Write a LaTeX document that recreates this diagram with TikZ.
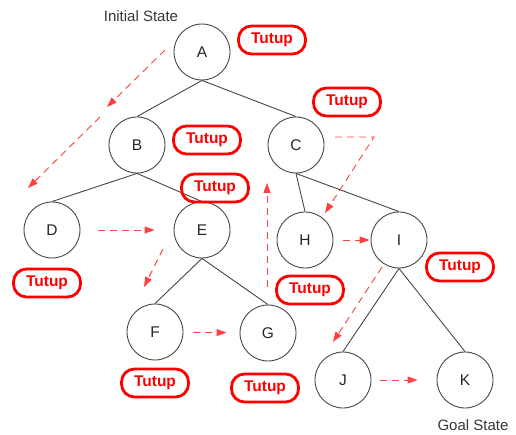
\documentclass[tikz,border=0pt]{standalone}
\usepackage{fontspec}
\setmainfont{Liberation Sans}
\usetikzlibrary{arrows.meta}
\definecolor{treeline}{RGB}{70,70,70}
\definecolor{closedred}{RGB}{255,0,0}
\definecolor{labelgrey}{RGB}{55,55,55}

\begin{document}
\begin{tikzpicture}[
  x=1pt, y=-1pt,
  font=\fontsize{15.5}{17}\selectfont,
  state/.style={circle, draw=treeline, line width=0.9pt, minimum size=56pt, inner sep=0pt, text=black!85},
  edge/.style={draw=treeline, line width=0.9pt},
  closed/.style={draw=closedred, line width=2.8pt, rounded corners=13pt, minimum width=67pt, minimum height=28pt, inner sep=0pt, text=closedred, font=\fontsize{15.5}{17}\selectfont\bfseries},
  search/.style={-{Triangle[length=10pt,width=7pt]}, draw=closedred!75, line width=0.9pt, dash pattern=on 7pt off 5pt},
  caption/.style={text=labelgrey, font=\fontsize{15}{17}\selectfont}
]
\useasboundingbox (0,0) rectangle (516,435);

% search tree
\node[state] (A) at (202,52) {A};
\node[state] (B) at (137,145) {B};
\node[state] (C) at (296,145) {C};
\node[state] (D) at (52,230) {D};
\node[state] (E) at (202,230) {E};
\node[state] (H) at (305,240) {H};
\node[state] (I) at (399,240) {I};
\node[state] (F) at (155,332) {F};
\node[state] (G) at (268,333) {G};
\node[state] (J) at (343,380) {J};
\node[state] (K) at (465,380) {K};

\draw[edge] (A.south) -- (B.north);
\draw[edge] (A.south) -- (C.north);
\draw[edge] (B.south) -- (D.north);
\draw[edge] (B.south) -- (E.north);
\draw[edge] (C.south) -- (H.north);
\draw[edge] (C.south) -- (I.north);
\draw[edge] (E.south) -- (F.north);
\draw[edge] (E.south) -- (G.north);
\draw[edge] (I.south) -- (J.north);
\draw[edge] (I.south) -- (K.north);

\node[caption] (initial) at (141,16) {Initial State};
\node[caption] (goal) at (473,425) {Goal State};

% closed marks
\node[closed] (cA) at (272,40) {Tutup};
\node[closed] (cC) at (347,102) {Tutup};
\node[closed] (cB) at (207,140) {Tutup};
\node[closed] (cE) at (215,188) {Tutup};
\node[closed] (cD) at (47,283) {Tutup};
\node[closed] (cH) at (310,290) {Tutup};
\node[closed] (cI) at (460,267) {Tutup};
\node[closed] (cF) at (155,383) {Tutup};
\node[closed] (cG) at (265,388) {Tutup};

% search order
\coordinate (s1) at (165,50);
\coordinate (s2) at (107,107);
\coordinate (s3) at (100,117);
\coordinate (s4) at (28,188);
\coordinate (s5) at (163,249);
\coordinate (s6) at (144,287);
\coordinate (s7) at (267,287);
\coordinate (s8) at (267,183);
\coordinate (s9) at (335,137);
\coordinate (s10) at (374,137);
\coordinate (s11) at (325,213);
\coordinate (s12) at (382,267);
\coordinate (s13) at (333,342);

\draw[search] (s1) -- (s2);
\draw[search] (s3) -- (s4);
\draw[search, shorten <=18pt, shorten >=19pt] (D) -- (E);
\draw[search] (s5) -- (s6);
\draw[search, shorten <=10pt, shorten >=13pt] (F) -- (G);
\draw[search] (s7) -- (s8);
\draw[search] (s9) -- (s10) -- (s11);
\draw[search, shorten <=10pt, shorten >=1pt] (H) -- (I);
\draw[search] (s12) -- (s13);
\draw[search, shorten <=9pt, shorten >=19pt] (J) -- (K);
\end{tikzpicture}
\end{document}
